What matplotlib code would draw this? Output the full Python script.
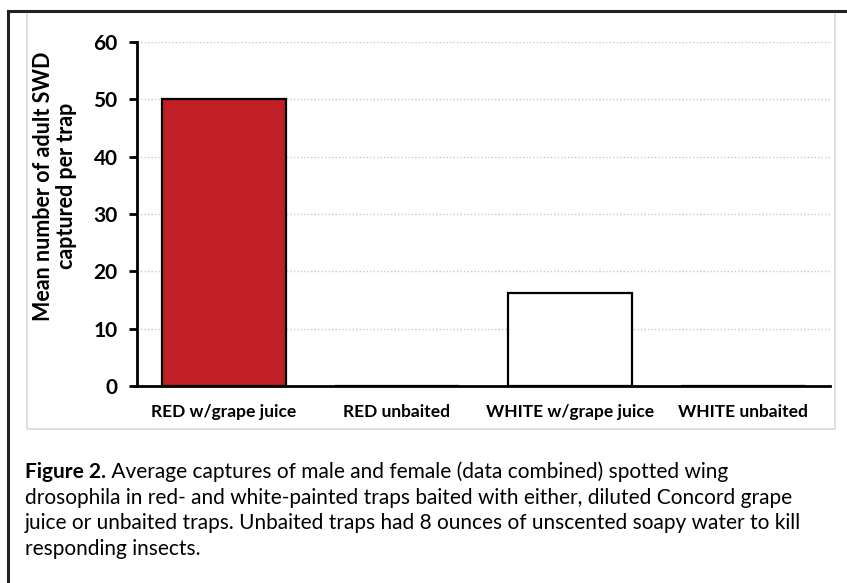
import matplotlib
matplotlib.use('Agg')
import matplotlib.pyplot as plt
from matplotlib.patches import Rectangle
from matplotlib.lines import Line2D

categories = ['RED w/grape juice', 'RED unbaited', 'WHITE w/grape juice', 'WHITE unbaited']
values = [50.0, 0.0, 16.2, 0.0]
colors = ['#c01f26', '#ffffff', '#ffffff', '#ffffff']
yticks = [0, 10, 20, 30, 40, 50, 60]
ylabel = 'Mean number of adult SWD\ncaptured per trap'
caption_bold = 'Figure 2.'
caption_lines = [
    ' Average captures of male and female (data combined) spotted wing',
    'drosophila in red- and white-painted traps baited with either, diluted Concord grape',
    'juice or unbaited traps. Unbaited traps had 8 ounces of unscented soapy water to kill',
    'responding insects.',
]

W, H = 847, 583
fig = plt.figure(figsize=(W / 100, H / 100), dpi=100)
plt.rcParams['font.family'] = ['Lato', 'DejaVu Sans']

# frames
fig.add_artist(Rectangle((27 / W, 1 - 429 / H), 808 / W, 417 / H, transform=fig.transFigure,
                         fill=False, edgecolor='#d9d9d9', linewidth=1.2))
fig.add_artist(Line2D([8 / W, 1], [1 - 11 / H, 1 - 11 / H], transform=fig.transFigure,
                      color='#222222', linewidth=2.2))
fig.add_artist(Line2D([8 / W, 8 / W], [0, 1 - 11 / H], transform=fig.transFigure,
                      color='#222222', linewidth=2.2))

ax = fig.add_axes([137 / W, 1 - 386 / H, (830 - 137) / W, (386 - 42) / H])
x = range(len(categories))
ax.bar(x, values, width=0.717, color=colors, edgecolor='black', linewidth=1.6, zorder=3)
ax.set_xlim(-0.5, len(categories) - 0.5)
ax.set_ylim(0, 60)
ax.set_yticks(yticks)
ax.yaxis.grid(True, color='#c8c8c8', linestyle=(0, (1, 1.5)), linewidth=1, zorder=0)
ax.set_xticks(list(x))
ax.set_xticklabels(categories, fontsize=12.5, fontweight='bold')
for lbl in ax.get_yticklabels():
    lbl.set_fontsize(15)
    lbl.set_fontweight('bold')
ax.tick_params(axis='y', length=6, width=2, direction='out', pad=8)
ax.tick_params(axis='x', length=0, pad=13)
for s in ['top', 'right']:
    ax.spines[s].set_visible(False)
for s in ['left', 'bottom']:
    ax.spines[s].set_linewidth(2)
ax.spines['left'].set_zorder(4)
ax.spines['bottom'].set_zorder(4)

fig.text(55 / W, 1 - 186 / H, ylabel, rotation=90, ha='center', va='center',
         multialignment='center', fontsize=15.5, fontweight='bold', linespacing=1.1)

# caption
y0 = 1 - 478 / H
t = fig.text(25 / W, y0, caption_bold, fontsize=15, fontweight='bold', va='baseline')
fig.canvas.draw()
bb = t.get_window_extent()
fig.text(bb.x1 / W, y0, caption_lines[0], fontsize=15, va='baseline')
for i, line in enumerate(caption_lines[1:], start=1):
    fig.text(25 / W, y0 - i * 25.7 / H, line, fontsize=15, va='baseline')

fig.savefig('out.png', dpi=100)
